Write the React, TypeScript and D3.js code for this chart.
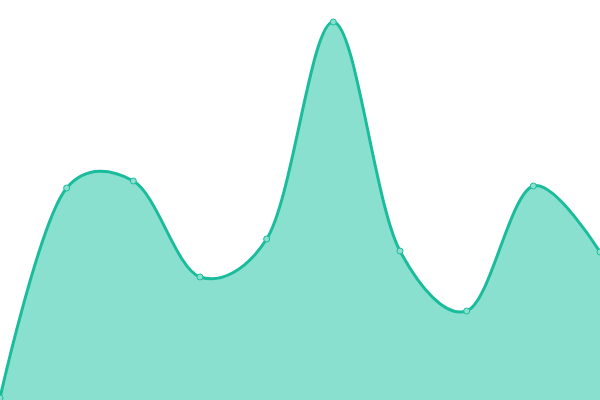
import React from 'react';
import * as d3 from 'd3';

// values, one per evenly spaced slot
const slots = ['0', '1', '2', '3', '4', '5', '6', '7', '8', '9'];
const values = [2, 212, 219, 123, 161, 378, 149, 89, 214, 148];
const yTicks = [0, 400];

const App: React.FC = () => {
  const width = 600;
  const height = 400;

  const x = d3.scalePoint<string>().domain(slots).range([0, width]);
  const y = d3.scaleLinear().domain([yTicks[0], yTicks[1]]).range([height, 0]);

  const data = slots.map((s, i) => ({ s, v: values[i] }));
  const curve = d3.curveCatmullRom.alpha(0.25);

  const area = d3.area<{ s: string; v: number }>()
    .x(d => x(d.s) || 0)
    .y0(height)
    .y1(d => y(d.v))
    .curve(curve);

  const line = d3.line<{ s: string; v: number }>()
    .x(d => x(d.s) || 0)
    .y(d => y(d.v))
    .curve(curve);

  return (
    <svg width={width} height={height} style={{ position: 'absolute', left: 0, top: 0, display: 'block' }}>
      <path d={area(data) || ''} fill="#89e0cf" />
      <path d={line(data) || ''} fill="none" stroke="#1abc9c" strokeWidth={3} />
      {data.map(d => (
        <circle key={d.s} cx={x(d.s)} cy={y(d.v)} r={3} fill="#8ae0cf" stroke="#1abc9c" strokeWidth={1} />
      ))}
    </svg>
  );
};

export default App;
